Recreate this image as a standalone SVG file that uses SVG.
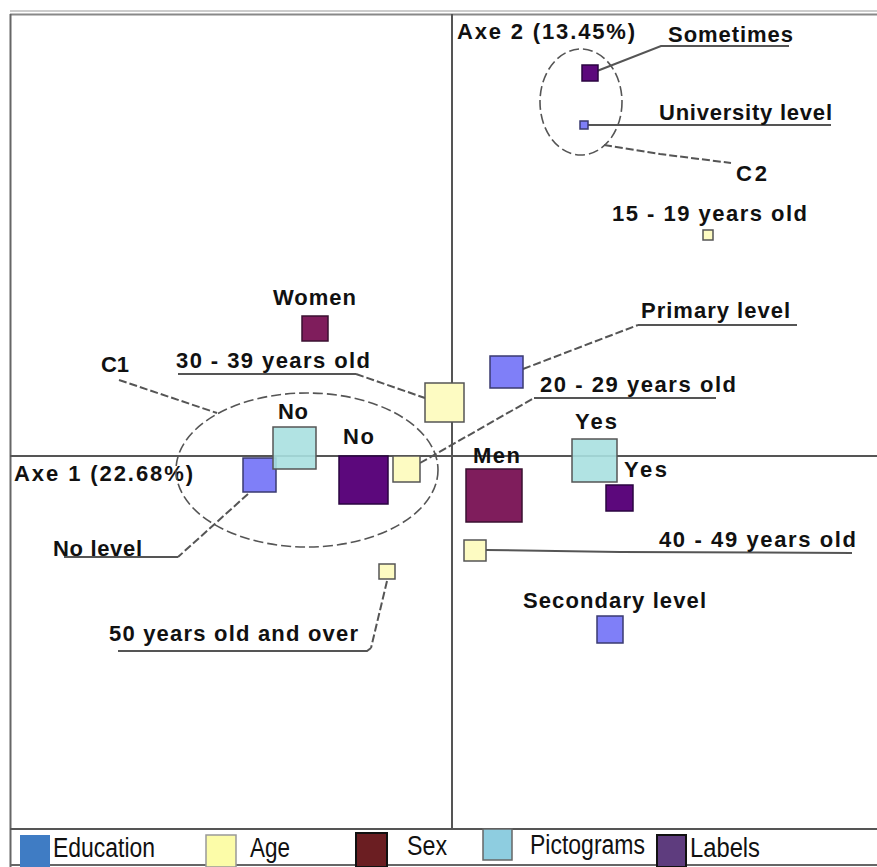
<svg xmlns="http://www.w3.org/2000/svg" width="877" height="867" viewBox="0 0 877 867">
<style>
.t{font-family:"Liberation Sans",Arial,sans-serif;font-weight:bold;font-size:22px;fill:#111}
.lg{font-family:"Liberation Sans Narrow","Liberation Sans",Arial,sans-serif;font-size:27px;fill:#111}
.ax{stroke:#555;stroke-width:2;fill:none}
.ld{stroke:#555;stroke-width:2;fill:none}
.dl{stroke:#555;stroke-width:2;fill:none;stroke-dasharray:8 3}
.el{stroke:#555;stroke-width:1.6;fill:none;stroke-dasharray:10 4}
.edu{fill:#7f7ff8;stroke:#3a3a70;stroke-width:1.5}
.age{fill:#fdfbc2;stroke:#555;stroke-width:1.5}
.sex{fill:#7f1d5c;stroke:#3a1030;stroke-width:1.5}
.pic{fill:#a8e0e0;stroke:#555;stroke-width:1.5}
.lab{fill:#5c087c;stroke:#2a0440;stroke-width:1.5}
</style>
<rect x="0" y="0" width="877" height="867" fill="#fff"/>
<g id="frame">
<line x1="10" y1="11" x2="877" y2="11" stroke="#ccc" stroke-width="2"/>
<line x1="10" y1="14.5" x2="877" y2="14.5" stroke="#888" stroke-width="2"/>
<line x1="10.5" y1="14" x2="10.5" y2="867" stroke="#666" stroke-width="2"/>
<line x1="452" y1="14" x2="452" y2="829" class="ax"/>
<line x1="10" y1="456" x2="877" y2="456" class="ax"/>
<line x1="10" y1="829" x2="877" y2="829" stroke="#555" stroke-width="2"/>
<line x1="10" y1="865" x2="877" y2="865" stroke="#666" stroke-width="2"/>
<text class="t" x="457" y="39" textLength="178">Axe 2 (13.45%)</text>
<text class="t" x="14" y="481" textLength="179">Axe 1 (22.68%)</text>
</g>
<g id="connectors">
<polyline class="ld" points="597,71 661,46 789,46"/>
<line class="ld" x1="588" y1="125" x2="831" y2="125"/>
<polyline class="dl" points="604,145 660,154 731,163"/>
<polyline class="dl" points="523,369 638,325"/>
<line class="ld" x1="638" y1="325" x2="797" y2="325"/>
<polyline class="dl" points="420,463 534,398"/>
<line class="ld" x1="534" y1="398" x2="716" y2="398"/>
<line class="ld" x1="178" y1="374" x2="356" y2="374"/>
<polyline class="dl" points="356,374 425,398"/>
<polyline class="dl" points="119,380 217,413"/>
<polyline class="dl" points="248,494 178,557"/>
<line class="ld" x1="64" y1="557" x2="178" y2="557"/>
<polyline class="ld" points="486,550 620,552 852,553"/>
<polyline class="dl" points="387,581 371,648"/>
<polyline class="ld" points="371,648 367,651 118,651"/>
</g>
<g id="C2">
<ellipse class="el" cx="581" cy="102" rx="41" ry="53"/>
<text class="t" x="736" y="181" textLength="31">C2</text>
</g>
<g id="C1">
<ellipse class="el" cx="307" cy="470" rx="131" ry="77"/>
<text class="t" x="101" y="372" textLength="28">C1</text>
</g>
<g id="sometimes">
<rect class="lab" x="582" y="65" width="16" height="16"/>
<text class="t" x="668" y="42" textLength="125">Sometimes</text>
</g>
<g id="university">
<rect class="edu" x="580" y="121" width="8" height="8"/>
<text class="t" x="659" y="120" textLength="173">University level</text>
</g>
<g id="age15">
<rect class="age" x="703" y="230" width="10" height="10"/>
<text class="t" x="612" y="221" textLength="195">15 - 19 years old</text>
</g>
<g id="women">
<rect class="sex" x="302" y="316" width="26" height="25"/>
<text class="t" x="273" y="305" textLength="83">Women</text>
</g>
<g id="primary">
<rect class="edu" x="490" y="356" width="33" height="32"/>
<text class="t" x="641" y="318" textLength="149">Primary level</text>
</g>
<g id="age30">
<rect class="age" x="425" y="383" width="39" height="39"/>
<text class="t" x="176" y="368" textLength="194">30 - 39 years old</text>
</g>
<g id="age20">
<rect class="age" x="393" y="456" width="27" height="26"/>
<text class="t" x="540" y="392" textLength="196">20 - 29 years old</text>
</g>
<g id="nolevel">
<rect class="edu" x="243" y="458" width="33" height="34"/>
<text class="t" x="53" y="556" textLength="89">No level</text>
</g>
<g id="nopic">
<rect class="pic" x="273" y="427" width="43" height="42" fill-opacity="0.9"/>
<text class="t" x="278" y="419" textLength="30">No</text>
</g>
<g id="nolab">
<rect class="lab" x="339" y="456" width="49" height="48"/>
<text class="t" x="343" y="444" textLength="31">No</text>
</g>
<g id="men">
<rect class="sex" x="466" y="469" width="56" height="53"/>
<text class="t" x="473" y="463" textLength="47">Men</text>
</g>
<g id="yespic">
<rect class="pic" x="572" y="439" width="45" height="43" fill-opacity="0.9"/>
<text class="t" x="575" y="429" textLength="42">Yes</text>
</g>
<g id="yeslab">
<rect class="lab" x="606" y="485" width="27" height="26"/>
<text class="t" x="624" y="477" textLength="43">Yes</text>
</g>
<g id="age40">
<rect class="age" x="464" y="540" width="22" height="21"/>
<text class="t" x="659" y="547" textLength="197">40 - 49 years old</text>
</g>
<g id="age50">
<rect class="age" x="379" y="564" width="16" height="15"/>
<text class="t" x="109" y="641" textLength="249">50 years old and over</text>
</g>
<g id="secondary">
<rect class="edu" x="597" y="616" width="26" height="27"/>
<text class="t" x="523" y="608" textLength="183">Secondary level</text>
</g>
<g id="legend">
<rect x="20" y="835" width="30" height="32" fill="#3f7cc4"/>
<text class="lg" x="53" y="857" textLength="102" lengthAdjust="spacingAndGlyphs">Education</text>
<rect x="206" y="835" width="30" height="32" fill="#fcfca8" stroke="#999" stroke-width="1.5"/>
<text class="lg" x="250" y="857" textLength="40" lengthAdjust="spacingAndGlyphs">Age</text>
<rect x="356" y="833" width="31" height="34" fill="#6b1e22" stroke="#111" stroke-width="2"/>
<text class="lg" x="407" y="855" textLength="40" lengthAdjust="spacingAndGlyphs">Sex</text>
<rect x="483" y="829" width="29" height="31" fill="#8ecde0" stroke="#666" stroke-width="1.5"/>
<text class="lg" x="530" y="854" textLength="115" lengthAdjust="spacingAndGlyphs">Pictograms</text>
<rect x="657" y="835" width="29" height="32" fill="#5e3c7e" stroke="#111" stroke-width="2"/>
<text class="lg" x="690" y="857" textLength="70" lengthAdjust="spacingAndGlyphs">Labels</text>
</g>
</svg>
